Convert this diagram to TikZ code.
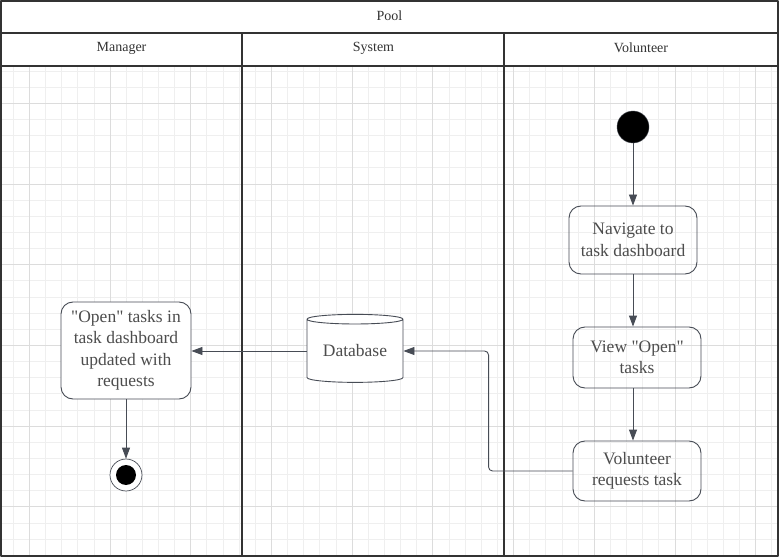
\documentclass[tikz,border=0pt]{standalone}
\usepackage{fontspec}
\setmainfont{Liberation Serif}
\usetikzlibrary{arrows.meta,shapes.geometric}
\definecolor{lanecol}{HTML}{333333}
\definecolor{linecol}{HTML}{474C55}
\definecolor{txtcol}{HTML}{4D4D4D}
\definecolor{gridminor}{HTML}{EFEFEF}
\definecolor{gridmajor}{HTML}{DCDCDC}
\begin{document}
\begin{tikzpicture}[x=1pt, y=-1pt, line join=round, >={Triangle[length=11pt,width=8pt]},
	lane/.style={draw=lanecol, line width=1.6pt},
	head/.style={font=\fontsize{14}{16}\selectfont, text=lanecol},
	activity/.style={draw=linecol, line width=0.9pt, rounded corners=12pt, align=center, text=txtcol, font=\fontsize{17.5}{21.5}\selectfont, inner sep=0pt},
	flow/.style={->, draw=linecol, line width=0.9pt}]
			\useasboundingbox (0,0) rectangle (780,559);
			\fill[white] (0,0) rectangle (780,559);
			\foreach \i in {0,...,47} \draw[gridminor, line width=0.8pt] (13.2+16.14*\i,66) -- (13.2+16.14*\i,556);
			\foreach \j in {-2,...,28} \draw[gridminor, line width=0.8pt] (1,103.3+16.14*\j) -- (778,103.3+16.14*\j);
			\foreach \i in {0,...,9} \draw[gridmajor, line width=0.8pt] (29.34+80.7*\i,66) -- (29.34+80.7*\i,556);
			\foreach \j in {0,...,5} \draw[gridmajor, line width=0.8pt] (1,103.3+80.7*\j) -- (778,103.3+80.7*\j);
			\draw[lane] (1,1) rectangle (778,556);
			\draw[lane] (1,33) -- (778,33) (1,66) -- (778,66) (242,33) -- (242,556) (504,33) -- (504,556);
			\node[head] (pool) at (389.5,16) {Pool};
			\node[head] (manager) at (121.5,48) {Manager};
			\node[head] (system) at (373.5,48) {System};
			\node[head] (volunteer) at (641,48) {Volunteer};
			
			\node[circle, fill=black, draw=linecol, minimum size=32pt, inner sep=0pt] (start) at (633,127) {};
			\node[activity, minimum width=128pt, minimum height=68pt] (navigate) at (633,240) {Navigate to\\task dashboard};
			\node[activity, minimum width=128pt, minimum height=61pt] (viewopen) at (637,357.5) {View \textquotedbl Open\textquotedbl\\tasks};
			\node[activity, minimum width=128pt, minimum height=60pt] (request) at (637,471) {Volunteer\\requests task};
			\node[cylinder, shape border rotate=90, aspect=0.15, draw=linecol, fill=white, line width=0.9pt, minimum width=96pt, minimum height=68pt, inner sep=0pt, text=txtcol, font=\fontsize{17.5}{21.5}\selectfont] (database) at (355,351) {\raisebox{-3pt}{Database}};
			\node[activity, fill=white, minimum width=130pt, minimum height=97pt] (updated) at (126,350.5) {\textquotedbl Open\textquotedbl{} tasks in\\task dashboard\\updated with\\requests};
			\node[circle, draw=linecol, fill=white, line width=0.7pt, minimum size=32pt, inner sep=0pt] (final) at (126,475) {};
			\fill[black] (final.center) circle[radius=10pt];
			
			\draw[flow] (start) -- (navigate);
			\draw[flow] (navigate.south) -- (navigate.south |- viewopen.north);
			\draw[flow] (navigate.south |- viewopen.south) -- (navigate.south |- request.north);
			\draw[flow, rounded corners=4pt] (request.west) -- ++(-84,0) |- (database.east);
			\draw[flow] (database.west) -- (database.west -| updated.east);
			\draw[flow] (updated) -- (final);
			
		\end{tikzpicture}
\end{document}
